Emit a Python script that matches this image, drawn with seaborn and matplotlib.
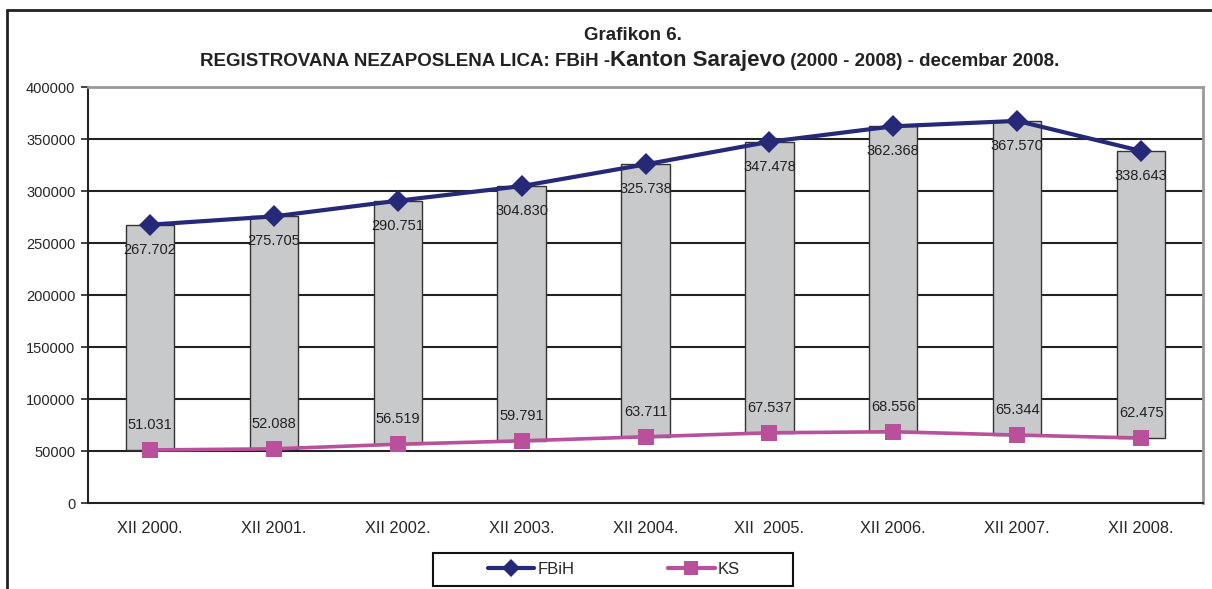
import matplotlib
matplotlib.use('Agg')
import matplotlib.pyplot as plt
import seaborn as sns
import pandas as pd
from matplotlib.lines import Line2D
from matplotlib.patches import Rectangle

# data
years = ['XII 2000.', 'XII 2001.', 'XII 2002.', 'XII 2003.', 'XII 2004.',
         'XII  2005.', 'XII 2006.', 'XII 2007.', 'XII 2008.']
fbih = [267702, 275705, 290751, 304830, 325738, 347478, 362368, 367570, 338643]
ks = [51031, 52088, 56519, 59791, 63711, 67537, 68556, 65344, 62475]
fbih_lbl = ['267.702', '275.705', '290.751', '304.830', '325.738',
            '347.478', '362.368', '367.570', '338.643']
ks_lbl = ['51.031', '52.088', '56.519', '59.791', '63.711',
          '67.537', '68.556', '65.344', '62.475']

navy = '#262878'
pink = '#b8509c'

sns.set_style('white')
plt.rcParams['font.family'] = ['Liberation Sans', 'DejaVu Sans']

df = pd.DataFrame({'x': range(len(years)), 'FBiH': fbih, 'KS': ks})

fig = plt.figure(figsize=(12.12, 5.89), dpi=100)
ax = fig.add_axes([0.0726, 0.146, 0.92, 0.706])

# grey up/down bars between the two series
ax.bar(df['x'], df['FBiH'] - df['KS'], bottom=df['KS'], width=0.39,
       color='#c8c9cb', edgecolor='#333333', linewidth=1, zorder=2)

sns.lineplot(data=df, x='x', y='FBiH', ax=ax, color=navy, lw=3, marker='D',
             markersize=11, markeredgewidth=0, zorder=4)
sns.lineplot(data=df, x='x', y='KS', ax=ax, color=pink, lw=2.6, marker='s',
             markersize=12, markeredgewidth=0, zorder=4)

for i in range(len(years)):
    ax.annotate(fbih_lbl[i], (i, fbih[i]), xytext=(0, -18), textcoords='offset points',
                ha='center', va='center', fontsize=10.5, color='#222222', zorder=5)
    ax.annotate(ks_lbl[i], (i, ks[i]), xytext=(0, 18), textcoords='offset points',
                ha='center', va='center', fontsize=10.5, color='#222222', zorder=5)

ax.set_xlim(-0.5, len(years) - 0.5)
ax.set_ylim(0, 400000)
ax.set_yticks(range(0, 400001, 50000))
ax.set_yticklabels([str(v) for v in range(0, 400001, 50000)], fontsize=10.5)
ax.set_xticks(range(len(years)))
ax.set_xticklabels(years, fontsize=11.8)
ax.set_xticks([i - 0.5 for i in range(len(years) + 1)], minor=True)
ax.tick_params(axis='x', which='major', length=0, pad=13)
ax.tick_params(axis='x', which='minor', length=6, width=1.2, color='#222222')
ax.tick_params(axis='y', length=5, width=1.2, color='#222222', pad=4, left=True)
ax.set_xlabel('')
ax.set_ylabel('')

for v in range(50000, 400000, 50000):
    ax.axhline(v, color='#222222', lw=1.5, zorder=1)

ax.spines['left'].set_color('#222222')
ax.spines['bottom'].set_color('#222222')
ax.spines['left'].set_linewidth(1.5)
ax.spines['bottom'].set_linewidth(1.5)
ax.spines['top'].set_color('#999999')
ax.spines['right'].set_color('#999999')
ax.spines['top'].set_linewidth(2)
ax.spines['right'].set_linewidth(2)

# title
fig.text(0.522, 0.94, 'Grafikon 6.', ha='center', va='center',
         fontsize=13.5, fontweight='bold', color='#222222')
parts = [('REGISTROVANA NEZAPOSLENA LICA: FBiH -', 13.5),
         ('Kanton Sarajevo', 16),
         (' (2000 - 2008) - decembar 2008.', 13.5)]
fig.canvas.draw()
r = fig.canvas.get_renderer()
texts = []
total = 0
for s, fs in parts:
    t = fig.text(0, 0.888, s, fontsize=fs, fontweight='bold', color='#222222',
                 va='baseline', ha='left')
    w = t.get_window_extent(renderer=r).width / fig.bbox.width
    texts.append((t, w))
    total += w
x0 = 0.5195 - total / 2
for t, w in texts:
    t.set_x(x0)
    x0 += w

# legend: handles without frame, box drawn separately
handles = [Line2D([], [], color=navy, lw=3, marker='D', markersize=9, markeredgewidth=0),
           Line2D([], [], color=pink, lw=3, marker='s', markersize=10, markeredgewidth=0)]
fig.legend(handles, ['FBiH', 'KS'], ncol=2, loc='center',
           bbox_to_anchor=(614 / 1212, 1 - 569 / 589), frameon=False,
           fontsize=12, handlelength=2.8, handletextpad=0.2,
           columnspacing=5.6, borderpad=0)
fig.add_artist(Rectangle((433 / 1212, 1 - 586 / 589), 360 / 1212, 33 / 589,
                         transform=fig.transFigure, fill=False,
                         edgecolor='#111111', lw=1.5))

# outer chart border (left and top only are visible)
fig.add_artist(Line2D([0.006, 0.006], [0, 0.983], color='#222222', lw=2,
                      transform=fig.transFigure))
fig.add_artist(Line2D([0.006, 1], [0.983, 0.983], color='#222222', lw=2,
                      transform=fig.transFigure))

fig.savefig('out.png', dpi=100)
